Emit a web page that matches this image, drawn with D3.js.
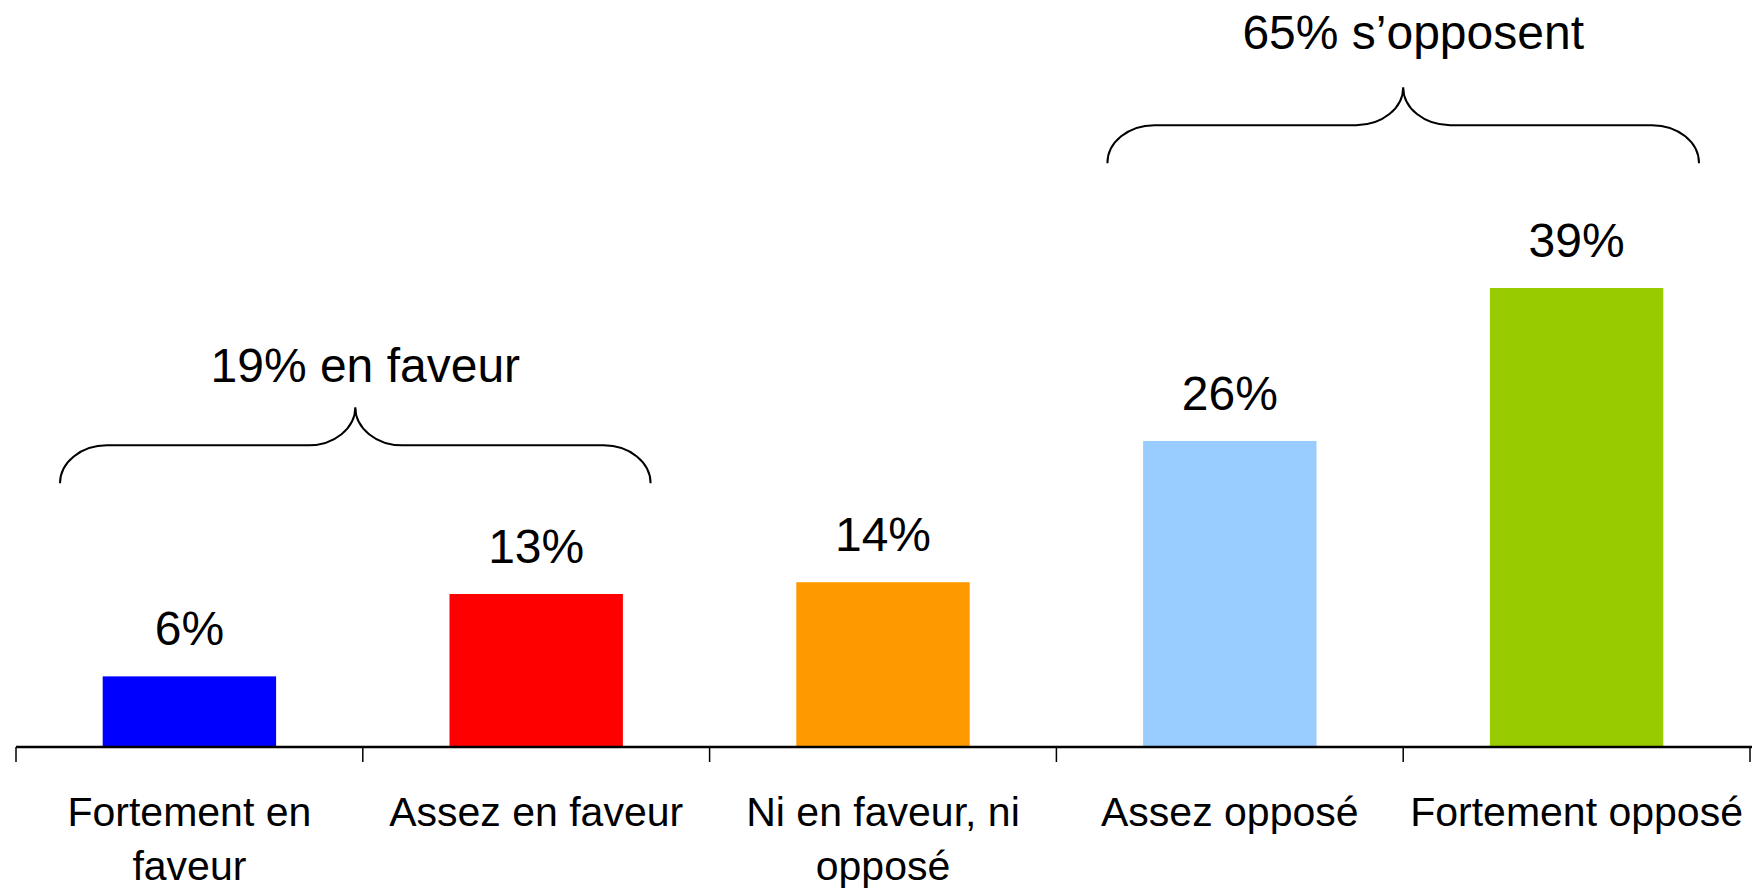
<!DOCTYPE html>
<html>
<head>
<meta charset="utf-8">
<script src="https://cdn.jsdelivr.net/npm/d3@7"></script>
<style>
  html, body { margin: 0; padding: 0; background: #fff; }
  svg { display: block; }
  text { font-family: "Liberation Sans", Arial, sans-serif; fill: #000; }
</style>
</head>
<body>
<svg id="chart"></svg>
<script>
// Data
const categories = ['Fortement en faveur', 'Assez en faveur', 'Ni en faveur, ni opposé', 'Assez opposé', 'Fortement opposé'];
const values = [6, 13, 14, 26, 39];
const barColors = ['#0000ff', '#ff0000', '#ff9900', '#99ccff', '#99cc00'];

// Grouping braces: first/last category index, wording and height (in % units)
const braceFrom = [0, 3];
const braceTo = [1, 4];
const braceWords = ['en faveur', 's’opposent'];
const braceLevel = [22.4, 49.6];

const config = {
    width: 1752,
    height: 890,
    left: 16,
    right: 1750,
    baseline: 747,
    top: 158.5,
    valueFont: 48,
    catFont: 41,
    catLineHeight: 54,
    braceInset: [[44, 59], [51, 51]],
    braceTextGap: [25, 38],
};

const svg = d3.select('#chart')
    .attr('width', config.width)
    .attr('height', config.height);

const x = d3.scaleBand()
    .domain(categories)
    .range([config.left, config.right])
    .paddingInner(0.5)
    .paddingOuter(0.25);

const y = d3.scaleLinear()
    .domain([0, 50])
    .range([config.baseline, config.top]);

const step = x.step();
const bandStart = d => x(d) - step * 0.25;

// Bars
svg.append('g')
    .selectAll('rect')
    .data(values)
    .join('rect')
        .attr('x', (d, i) => x(categories[i]))
        .attr('y', d => y(d))
        .attr('width', x.bandwidth())
        .attr('height', d => y(0) - y(d))
        .attr('fill', (d, i) => barColors[i]);

// Value labels
svg.append('g')
    .selectAll('text')
    .data(values)
    .join('text')
        .attr('x', (d, i) => x(categories[i]) + x.bandwidth() / 2)
        .attr('y', d => y(d) - 31)
        .attr('text-anchor', 'middle')
        .style('font-size', config.valueFont + 'px')
        .text(d => d + '%');

// Category axis: line, ticks at band edges, wrapped labels
const axis = svg.append('g');
axis.append('line')
    .attr('x1', config.left)
    .attr('x2', config.width)
    .attr('y1', y(0))
    .attr('y2', y(0))
    .attr('stroke', '#000')
    .attr('stroke-width', 2.5);

const tickPos = categories.map(bandStart).concat([bandStart(categories[categories.length - 1]) + step]);
axis.selectAll('.tick')
    .data(tickPos)
    .join('line')
        .attr('class', 'tick')
        .attr('x1', d => d)
        .attr('x2', d => d)
        .attr('y1', y(0))
        .attr('y2', y(0) + 15)
        .attr('stroke', '#000')
        .attr('stroke-width', 1.5);

const catLabels = axis.selectAll('.cat')
    .data(categories)
    .join('text')
        .attr('class', 'cat')
        .attr('text-anchor', 'middle')
        .style('font-size', config.catFont + 'px')
        .attr('x', d => x(d) + x.bandwidth() / 2)
        .attr('y', y(0) + 79);

// Wrap each label to the width of its band
catLabels.each(function(d) {
    const text = d3.select(this);
    const cx = text.attr('x');
    const words = d.split(' ');
    let line = [];
    let lineNo = 0;
    let tspan = text.append('tspan').attr('x', cx).attr('dy', 0);
    words.forEach(w => {
        line.push(w);
        tspan.text(line.join(' '));
        if (tspan.node().getComputedTextLength() > step - 6 && line.length > 1) {
            line.pop();
            tspan.text(line.join(' '));
            line = [w];
            lineNo++;
            tspan = text.append('tspan')
                .attr('x', cx)
                .attr('dy', config.catLineHeight)
                .text(w);
        }
    });
});

// Curly braces over grouped bars
const rx = 47, ry = 38;
function bracePath(x0, x1, yEnd) {
    const yLine = yEnd - ry;
    const yTip = yEnd - 2 * ry;
    const xm = (x0 + x1) / 2;
    return `M${x0},${yEnd}` +
        ` A${rx},${ry} 0 0 1 ${x0 + rx},${yLine}` +
        ` L${xm - rx},${yLine}` +
        ` A${rx},${ry} 0 0 0 ${xm},${yTip}` +
        ` A${rx},${ry} 0 0 0 ${xm + rx},${yLine}` +
        ` L${x1 - rx},${yLine}` +
        ` A${rx},${ry} 0 0 1 ${x1},${yEnd}`;
}

const braces = braceFrom.map((f, i) => {
    const x0 = bandStart(categories[f]) + config.braceInset[i][0];
    const x1 = bandStart(categories[braceTo[i]]) + step - config.braceInset[i][1];
    const total = d3.sum(values.slice(f, braceTo[i] + 1));
    return {x0, x1, yEnd: y(braceLevel[i]), label: `${total}% ${braceWords[i]}`, gap: config.braceTextGap[i]};
});

const braceG = svg.append('g');
braceG.selectAll('path')
    .data(braces)
    .join('path')
        .attr('d', d => bracePath(d.x0, d.x1, d.yEnd))
        .attr('fill', 'none')
        .attr('stroke', '#000')
        .attr('stroke-width', 2);

braceG.selectAll('text')
    .data(braces)
    .join('text')
        .attr('x', d => (d.x0 + d.x1) / 2 + 10)
        .attr('y', d => d.yEnd - 2 * ry - d.gap)
        .attr('text-anchor', 'middle')
        .style('font-size', config.valueFont + 'px')
        .text(d => d.label);
</script>
</body>
</html>
